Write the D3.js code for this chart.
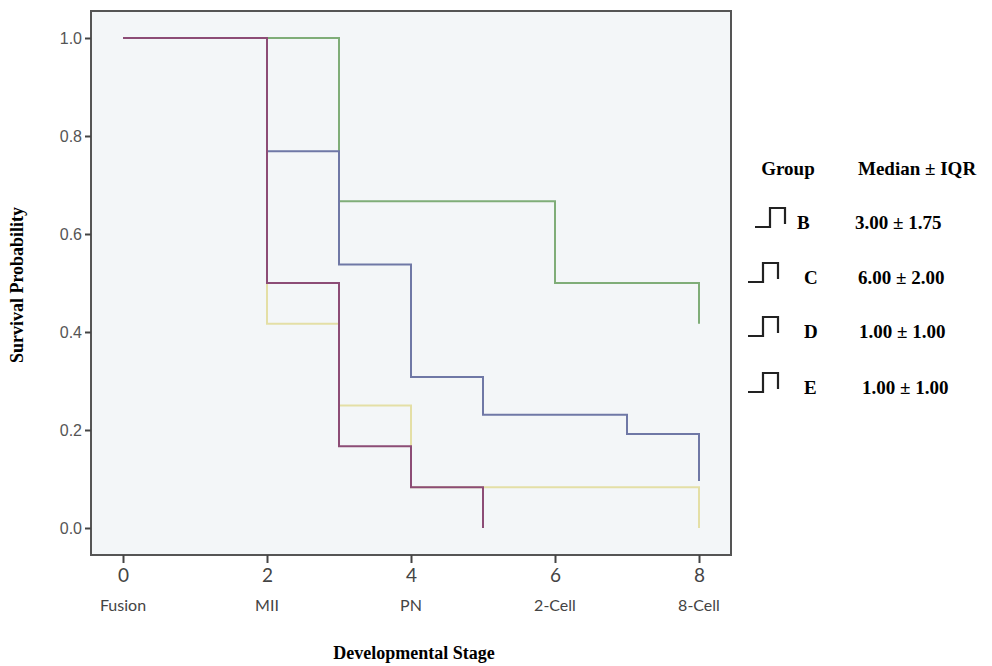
<!DOCTYPE html>
<html lang="en">
<head>
    <meta charset="UTF-8">
    <title>Survival by developmental stage</title>
    <script src="https://d3js.org/d3.v7.min.js"></script>
    <style>
        body {margin: 0; background: white;}
        .serif {font-family: "Liberation Serif", "Times New Roman", serif; font-weight: bold;}
    </style>
</head>
<body>
<script>
    const width = 992;
    const height = 666;

    // x axis
    const stageTicks = [0, 2, 4, 6, 8];
    const stageNames = ["Fusion", "MII", "PN", "2-Cell", "8-Cell"];
    const probTicks = [0, 0.2, 0.4, 0.6, 0.8, 1.0];

    // step curves (time, survival)
    const yellowTimes = [0, 2, 3, 4, 8];
    const yellowSurv = [1, 0.417, 0.25, 0.083, 0];
    const greenTimes = [0, 3, 6, 8];
    const greenSurv = [1, 0.667, 0.5, 0.417];
    const blueTimes = [0, 2, 3, 4, 5, 7, 8];
    const blueSurv = [1, 0.769, 0.538, 0.308, 0.231, 0.192, 0.096];
    const purpleTimes = [0, 2, 3, 4, 5];
    const purpleSurv = [1, 0.5, 0.167, 0.083, 0];

    // legend
    const groups = ["B", "C", "D", "E"];
    const medians = ["3.00 \u00b1 1.75", "6.00 \u00b1 2.00", "1.00 \u00b1 1.00", "1.00 \u00b1 1.00"];

    const series = [
        {times: yellowTimes, surv: yellowSurv, color: "#e4dfa6"},
        {times: greenTimes, surv: greenSurv, color: "#7fad78"},
        {times: blueTimes, surv: blueSurv, color: "#6f78a6"},
        {times: purpleTimes, surv: purpleSurv, color: "#8c4c76"}
    ];

    const frame = {left: 91, top: 11, right: 731, bottom: 555};

    const x = d3.scaleLinear().domain([0, 8]).range([123, 699]);
    const y = d3.scaleLinear().domain([0, 1]).range([528, 38]);

    const svg = d3.select("body").append("svg")
            .attr("width", width).attr("height", height);

    svg.append("rect")
            .attr("x", frame.left).attr("y", frame.top)
            .attr("width", frame.right - frame.left)
            .attr("height", frame.bottom - frame.top)
            .style("fill", "#f3f6f8")
            .style("stroke", "none");

    const line = d3.line()
            .x(d => x(d[0]))
            .y(d => y(d[1]))
            .curve(d3.curveStepAfter);

    svg.selectAll("path.curve")
            .data(series)
            .enter()
            .append("path")
            .attr("class", "curve")
            .attr("d", d => line(d.times.map((t, i) => [t, d.surv[i]])))
            .style("fill", "none")
            .style("stroke", d => d.color)
            .style("stroke-width", 2);

    // frame on top
    svg.append("rect")
            .attr("x", frame.left).attr("y", frame.top)
            .attr("width", frame.right - frame.left)
            .attr("height", frame.bottom - frame.top)
            .style("fill", "none")
            .style("stroke", "#555")
            .style("stroke-width", 2);

    const yAxis = svg.append("g")
            .attr("transform", `translate(${frame.left},0)`)
            .call(d3.axisLeft(y).tickValues(probTicks).tickFormat(d3.format(".1f")).tickSize(6).tickPadding(3));
    yAxis.select(".domain").remove();
    yAxis.selectAll(".tick line").style("stroke", "#444").style("stroke-width", 2);
    yAxis.selectAll(".tick text")
            .style("font-family", "'Liberation Sans', Arial, sans-serif")
            .style("font-size", "16px")
            .style("fill", "#555");

    const xAxis = svg.append("g")
            .attr("transform", `translate(0,${frame.bottom})`)
            .call(d3.axisBottom(x).tickValues(stageTicks).tickSize(8).tickPadding(6));
    xAxis.select(".domain").remove();
    xAxis.selectAll(".tick line").style("stroke", "#444").style("stroke-width", 2);
    xAxis.selectAll(".tick text")
            .style("font-family", "Lato, 'Open Sans', sans-serif")
            .style("font-size", "19px")
            .style("fill", "#444");

    svg.selectAll("text.stage")
            .data(stageTicks)
            .enter()
            .append("text")
            .attr("class", "stage")
            .attr("x", d => x(d))
            .attr("y", 611)
            .attr("text-anchor", "middle")
            .style("font-family", "Lato, 'Open Sans', sans-serif")
            .style("font-size", "16px")
            .style("fill", "#444")
            .text((d, i) => stageNames[i]);

    svg.append("text")
            .attr("class", "serif")
            .attr("x", 414).attr("y", 659)
            .attr("text-anchor", "middle")
            .style("font-size", "18px")
            .text("Developmental Stage");

    svg.append("text")
            .attr("class", "serif")
            .attr("transform", "translate(23,285) rotate(-90)")
            .attr("text-anchor", "middle")
            .style("font-size", "18px")
            .text("Survival Probability");

    // legend
    const legend = svg.append("g").attr("class", "serif").style("font-size", "19px");
    legend.append("text").attr("x", 788).attr("y", 175).attr("text-anchor", "middle").text("Group");
    legend.append("text").attr("x", 858).attr("y", 175).text("Median \u00b1 IQR");

    const rowY = [222, 277, 331, 387];
    const symX = [755, 748, 748, 748];
    const letterX = [797, 804, 804, 804];
    const valueX = [855, 858, 859, 862];

    const rows = legend.selectAll("g.row")
            .data(groups)
            .enter()
            .append("g")
            .attr("class", "row");

    rows.append("path")
            .attr("d", (d, i) => `M${symX[i]},${rowY[i] + 5}h15v-19h15v16`)
            .style("fill", "none")
            .style("stroke", "#222")
            .style("stroke-width", 2.2);

    rows.append("text")
            .attr("x", (d, i) => letterX[i])
            .attr("y", (d, i) => rowY[i] + 7)
            .text(d => d);

    rows.append("text")
            .attr("x", (d, i) => valueX[i])
            .attr("y", (d, i) => rowY[i] + 7)
            .text((d, i) => medians[i]);
</script>
</body>
</html>
